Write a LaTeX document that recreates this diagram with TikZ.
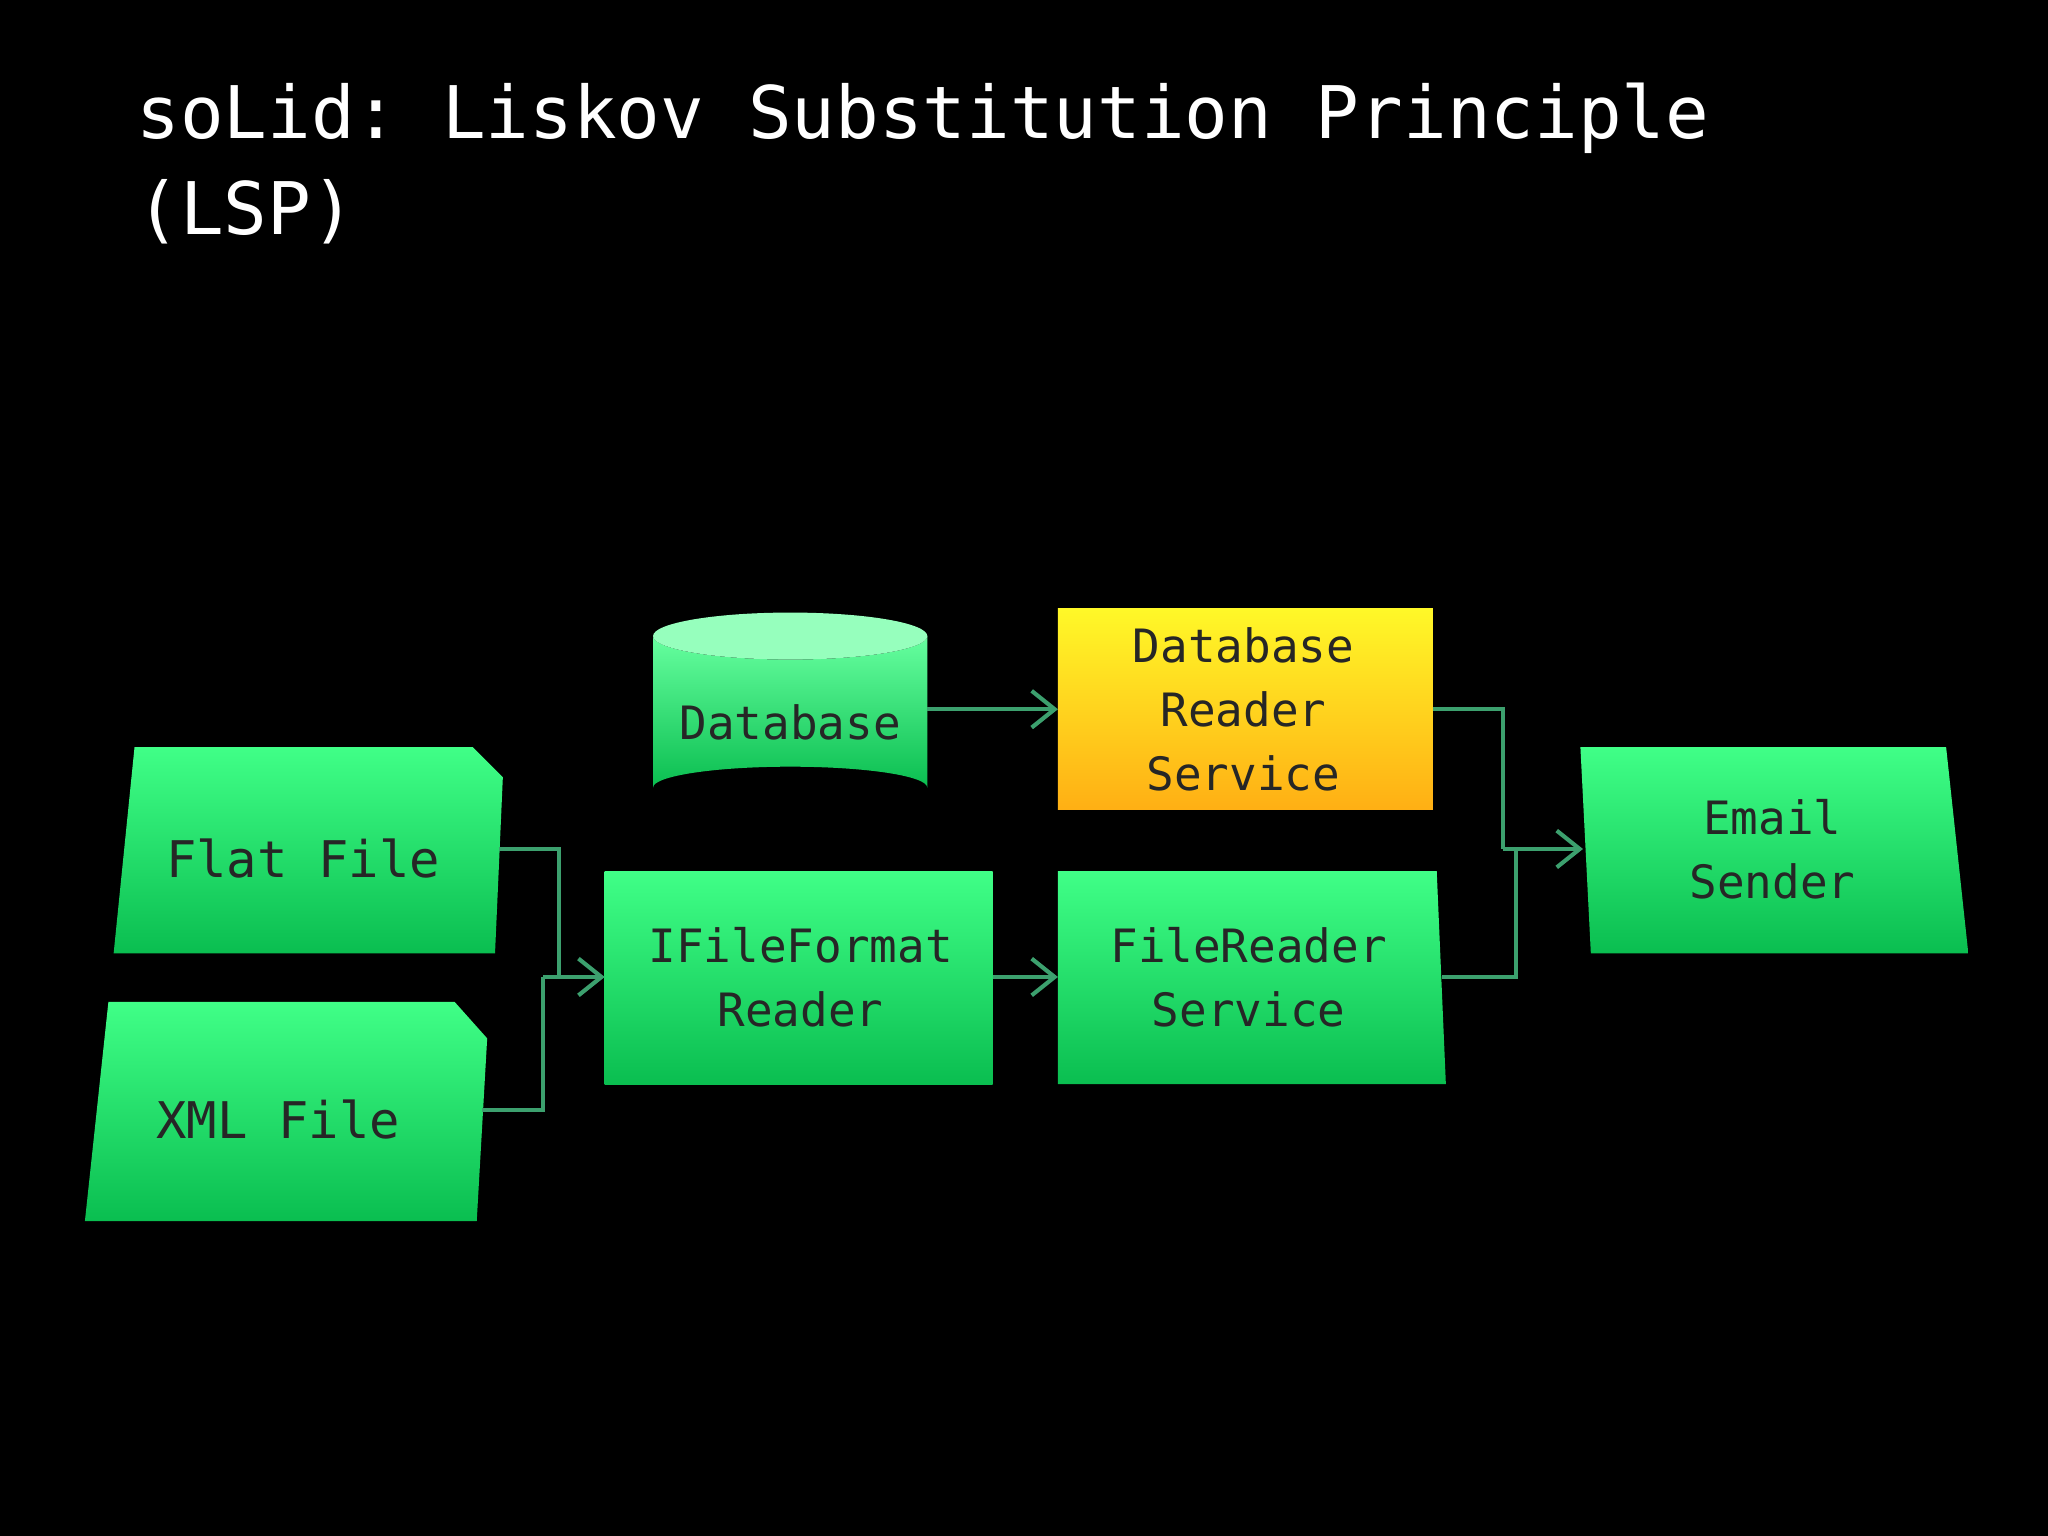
\documentclass[tikz,border=0pt]{standalone}
\usepackage{fontspec}
\setmonofont{DejaVu Sans Mono}
\usetikzlibrary{arrows.meta,shapes.geometric}
\definecolor{gtop}{RGB}{64,255,135}
\definecolor{gbot}{RGB}{10,190,80}
\definecolor{ytop}{RGB}{255,248,40}
\definecolor{ybot}{RGB}{255,175,20}
\definecolor{lnk}{RGB}{60,160,110}
\tikzset{
 gbox/.style={top color=gtop,bottom color=gbot,draw=none},
 lbl/.style={font=\ttfamily\fontsize{10}{14}\selectfont,align=center,text=black!85},
 conn/.style={draw=lnk,line width=0.9pt},
 arr/.style={conn,-{Straight Barb[length=5pt,width=8pt]}}
}
\begin{document}
\begin{tikzpicture}[x=0.01cm,y=-0.01cm]
\fill[black] (0,0) rectangle (1568,1176);
\node[anchor=west,text=white,font=\ttfamily\fontsize{15.8}{21}\selectfont,align=left] (title) at (92,125) {soLid: Liskov Substitution Principle\\(LSP)};
% Flat File
\shade[gbox] (103,572)--(362,572)--(385,595)--(379,730)--(87,730)--cycle;
\node[lbl,font=\ttfamily\fontsize{11}{14}\selectfont] (ff) at (232,657) {Flat File};
\coordinate (ffr) at (382,650);
% XML File
\shade[gbox] (83,767)--(348,767)--(373,795)--(365,935)--(65,935)--cycle;
\node[lbl,font=\ttfamily\fontsize{11}{14}\selectfont] (xml) at (213,857) {XML File};
\coordinate (xmlr) at (369,850);
% Database cylinder
\shade[top color=gtop!80!white,bottom color=gbot] (500,487) -- (500,603) arc[start angle=180,end angle=360,x radius=105,y radius=16] -- (710,487) arc[start angle=0,end angle=180,x radius=105,y radius=18];
\fill[gtop!55!white] (605,487) ellipse[x radius=105,y radius=18];
\node[lbl] (db) at (605,553) {Database};
\coordinate (dbr) at (710,543);
% DB Reader Service
\shade[top color=ytop,bottom color=ybot] (810,466) rectangle (1097,620);
\node[lbl] (drs) at (952,543) {Database\\Reader\\Service};
\coordinate (drsl) at (810,543);
\coordinate (drsr) at (1097,543);
% IFileFormat Reader
\shade[gbox] (463,667) rectangle (760,830);
\node[lbl] (ifr) at (613,748) {IFileFormat\\Reader};
\coordinate (ifrl) at (463,748);
\coordinate (ifrr) at (760,748);
% FileReader Service
\shade[gbox] (810,667)--(1100,667)--(1107,830)--(810,830)--cycle;
\node[lbl] (frs) at (956,748) {FileReader\\Service};
\coordinate (frsl) at (810,748);
\coordinate (frsr) at (1104,748);
% Email Sender
\shade[gbox] (1210,572)--(1490,572)--(1507,730)--(1218,730)--cycle;
\node[lbl] (es) at (1357,650) {Email\\Sender};
\coordinate (esl) at (1212,650);
% connectors
\coordinate (j1) at (428,748);
\draw[conn] (ffr) -- (428,650) -- (j1);
\draw[conn] (xmlr) -- (416,850) -- (416,748);
\draw[arr] (416,748) -- (ifrl);
\draw[arr] (ifrr) -- (frsl);
\draw[arr] (dbr) -- (drsl);
\draw[conn] (drsr) -- (1151,543) -- (1151,650);
\draw[conn] (frsr) -- (1161,748) -- (1161,650);
\draw[arr] (1151,650) -- (esl);
\end{tikzpicture}
\end{document}
